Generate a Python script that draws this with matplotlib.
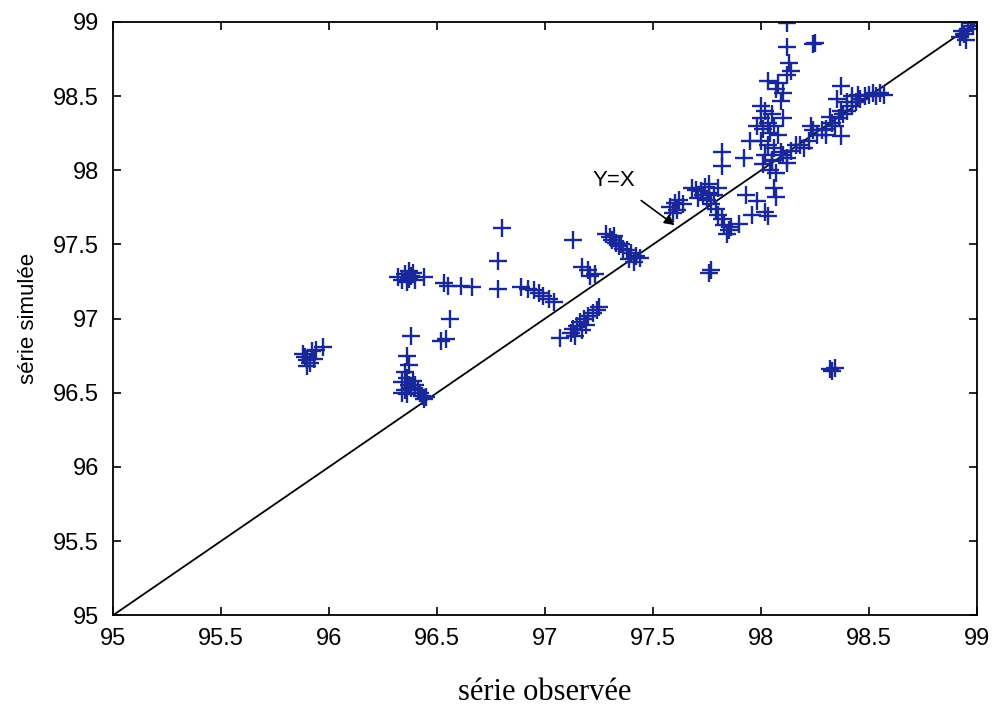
import numpy as np
import matplotlib.pyplot as plt

obs = [
    # ~96.75 cluster
    95.88, 95.90, 95.91, 95.89, 95.92, 95.94, 95.97, 95.93, 95.90,
    # ~97.28 cluster
    96.32, 96.35, 96.37, 96.38, 96.36, 96.40, 96.44, 96.34, 96.39, 96.37,
    # column at 96.4
    96.38, 96.36, 96.37, 96.35, 96.36, 96.34, 96.37, 96.35, 96.38, 96.40,
    96.36, 96.42, 96.43, 96.45, 96.44, 96.41, 96.39, 96.34,
    96.56, 96.52, 96.54,
    96.53, 96.55, 96.61, 96.66, 96.78, 96.78, 96.80,
    96.89, 96.92, 96.95, 96.97, 96.99, 97.02, 97.04,
    97.13, 97.17, 97.20, 97.21, 97.23, 97.07,
    97.12, 97.13, 97.15, 97.16, 97.18, 97.20, 97.22, 97.24, 97.25, 97.17, 97.19, 97.14,
    97.28, 97.30, 97.31, 97.33, 97.34, 97.36, 97.38, 97.40, 97.42, 97.44, 97.39, 97.41, 97.35, 97.32,
    97.58, 97.60, 97.62, 97.64, 97.61, 97.59,
    97.68, 97.70, 97.72, 97.74, 97.76, 97.78, 97.75, 97.77, 97.79, 97.80, 97.82,
    97.83, 97.85, 97.84, 97.86, 97.73, 97.71, 97.80, 97.76, 97.77, 97.76,
    97.82, 97.82, 97.92, 97.90, 98.03, 97.93, 98.07, 98.06, 97.98, 98.02, 97.96,
    98.00, 98.02, 98.05, 98.00, 98.03, 98.06, 98.01, 98.04, 98.08, 98.00, 98.03,
    98.06, 98.02, 98.05, 98.01, 98.04, 98.07, 98.09, 98.10, 98.12, 98.23, 97.98, 97.95,
    98.12, 98.12, 98.24, 98.25, 98.13, 98.14, 98.12, 98.03, 98.08, 98.07, 98.10, 98.09,
    98.05, 98.10, 98.14, 98.18, 98.22, 98.26, 98.30, 98.33, 98.36, 98.38, 98.40, 98.42,
    98.44, 98.46, 98.48, 98.50, 98.52, 98.55, 98.57, 98.53, 98.45, 98.42, 98.37, 98.35,
    98.37, 98.37, 98.28, 98.20, 98.16, 98.12, 98.24, 98.32, 98.40, 98.34, 98.30,
    98.92, 98.94, 98.96, 98.98, 98.95, 98.97, 98.93,
    98.33, 98.34, 98.32,
]
sim = [
    96.76, 96.72, 96.70, 96.74, 96.78, 96.79, 96.81, 96.73, 96.68,
    97.28, 97.30, 97.27, 97.29, 97.25, 97.26, 97.28, 97.26, 97.31, 97.32,
    96.88, 96.75, 96.69, 96.64, 96.60, 96.57, 96.55, 96.52, 96.53, 96.55,
    96.49, 96.50, 96.48, 96.47, 96.46, 96.52, 96.58, 96.50,
    97.00, 96.85, 96.86,
    97.24, 97.22, 97.22, 97.21, 97.20, 97.39, 97.61,
    97.21, 97.20, 97.19, 97.17, 97.15, 97.13, 97.11,
    97.53, 97.35, 97.33, 97.29, 97.30, 96.87,
    96.90, 96.93, 96.95, 96.98, 97.00, 97.02, 97.04, 97.06, 97.08, 96.92, 96.96, 96.88,
    97.57, 97.55, 97.53, 97.51, 97.49, 97.47, 97.46, 97.44, 97.42, 97.41, 97.40, 97.38, 97.50, 97.56,
    97.75, 97.78, 97.80, 97.77, 97.73, 97.71,
    97.88, 97.87, 97.86, 97.89, 97.85, 97.83, 97.80, 97.77, 97.74, 97.70, 97.67,
    97.63, 97.60, 97.57, 97.62, 97.83, 97.81, 97.88, 97.91, 97.33, 97.31,
    98.12, 98.03, 98.08, 97.64, 97.69, 97.83, 97.82, 97.88, 97.79, 97.72, 97.70,
    98.43, 98.40, 98.38, 98.35, 98.32, 98.30, 98.28, 98.25, 98.24, 98.20, 98.17,
    98.15, 98.10, 98.07, 98.04, 98.00, 97.98, 98.12, 98.35, 98.05, 98.30, 98.30, 98.20,
    98.99, 98.83, 98.85, 98.86, 98.72, 98.67, 98.64, 98.60, 98.59, 98.55, 98.52, 98.47,
    98.06, 98.10, 98.13, 98.17, 98.20, 98.24, 98.28, 98.32, 98.35, 98.38, 98.40, 98.43,
    98.46, 98.48, 98.50, 98.51, 98.52, 98.52, 98.51, 98.50, 98.51, 98.50, 98.57, 98.48,
    98.40, 98.23, 98.27, 98.15, 98.17, 98.08, 98.27, 98.36, 98.46, 98.30, 98.24,
    98.90, 98.92, 98.95, 98.97, 98.88, 98.99, 98.94,
    96.65, 96.67, 96.66,
]
ticks = [95, 95.5, 96, 96.5, 97, 97.5, 98, 98.5, 99]
tick_labels = ['95', '95.5', '96', '96.5', '97', '97.5', '98', '98.5', '99']

plt.rcParams['font.family'] = ['Liberation Sans', 'DejaVu Sans']

fig = plt.figure(figsize=(9.93, 7.08), dpi=100)
ax = fig.add_axes([0.1138, 0.131, 0.8702, 0.838])

ax.plot([95, 99], [95, 99], color='k', lw=1.3)
ax.plot(obs, sim, linestyle='none', marker='+', markersize=13,
        markeredgewidth=1.7, color='#18289a')

ax.annotate('Y=X', xy=(97.60, 97.63), xytext=(97.32, 97.93),
            ha='center', va='center', fontsize=16,
            arrowprops=dict(arrowstyle='-|>', color='k', lw=1.2,
                            mutation_scale=15, shrinkA=8, shrinkB=0))

ax.set_xlim(95, 99)
ax.set_ylim(95, 99)
ax.set_xticks(ticks)
ax.set_xticklabels(tick_labels)
ax.set_yticks(ticks)
ax.set_yticklabels(tick_labels)
ax.tick_params(direction='in', top=True, right=True, length=6, width=1.2,
               labelsize=17)
ax.tick_params(axis='x', pad=9)
ax.tick_params(axis='y', pad=10)
for s in ax.spines.values():
    s.set_linewidth(1.3)

ax.set_ylabel('série simulée', fontsize=16, labelpad=10)
ax.set_xlabel('série observée', fontsize=22, family='Liberation Serif', labelpad=20)

fig.savefig('out.png', dpi=100)
